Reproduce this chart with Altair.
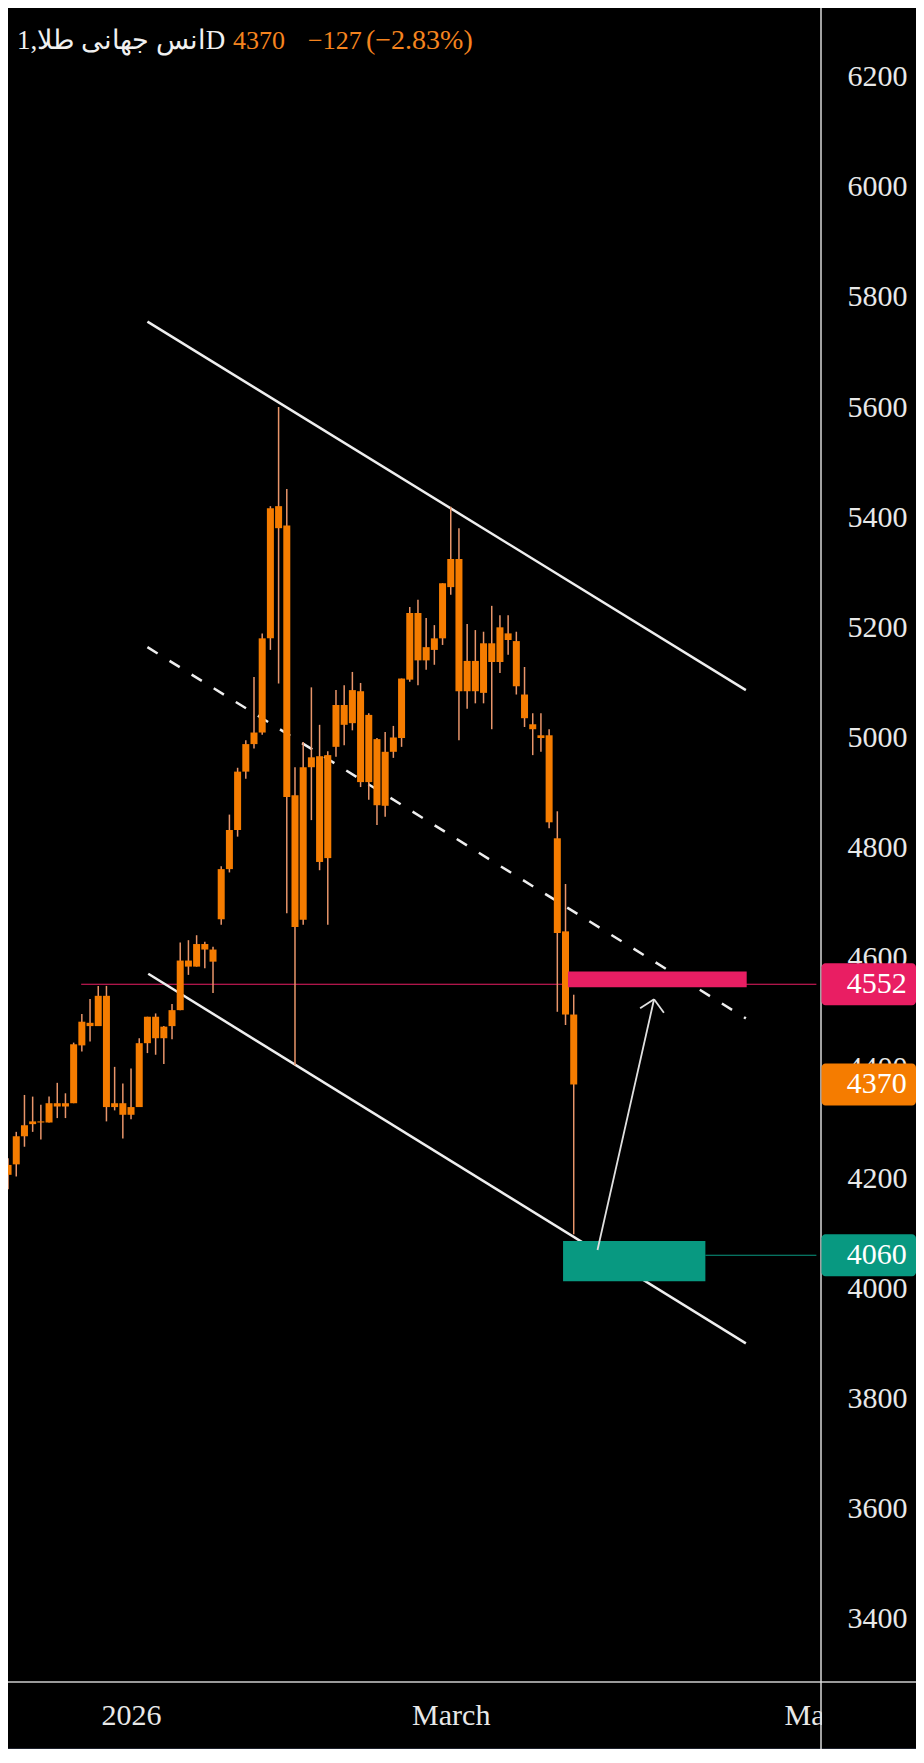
import altair as alt
import pandas as pd

# ---------------- data (daily candles, bar index order) ----------------
opens  = [4206, 4225, 4276, 4298, 4303, 4301, 4336, 4330, 4336, 4441,
          4482, 4476, 4531, 4329, 4336, 4315, 4329, 4445, 4493, 4454,
          4476, 4505, 4595, 4584, 4625, 4615, 4670, 4761, 4832, 4938,
          4988, 5009, 5180, 5420, 5385, 4895, 4669, 4946, 4966, 4781,
          4983, 5059, 5026, 5084, 4919, 4997, 4876, 4974, 4999, 5105,
          5226, 5140, 5159, 5180, 5273, 5324, 5084, 5139, 5081, 5171,
          5137, 5189, 5175, 5078, 5024, 5004, 5004, 4817, 4648, 4497]
highs  = [4236, 4284, 4351, 4348, 4333, 4348, 4373, 4354, 4446, 4498,
          4525, 4549, 4549, 4402, 4372, 4399, 4454, 4493, 4499, 4476,
          4516, 4628, 4632, 4641, 4629, 4620, 4766, 4860, 4945, 4995,
          5110, 5189, 5420, 5600, 5451, 4946, 4992, 5091, 5023, 4975,
          5086, 5095, 5119, 5099, 5044, 4999, 5010, 5021, 5107, 5237,
          5250, 5217, 5204, 5280, 5419, 5380, 5206, 5195, 5192, 5239,
          5222, 5222, 5192, 5128, 5044, 5044, 5015, 4866, 4734, 4533]
lows   = [4180, 4203, 4257, 4284, 4270, 4301, 4309, 4309, 4336, 4430,
          4448, 4476, 4303, 4323, 4272, 4307, 4329, 4427, 4424, 4407,
          4452, 4505, 4569, 4584, 4581, 4536, 4660, 4755, 4820, 4925,
          4980, 5005, 5159, 5098, 4681, 4405, 4660, 4850, 4759, 4660,
          4965, 4986, 5013, 4910, 4887, 4841, 4856, 4963, 4983, 5101,
          5095, 5123, 5132, 5168, 5259, 4995, 5052, 5062, 5062, 5015,
          5117, 5150, 5078, 5019, 4968, 4974, 4835, 4502, 4478, 4098]
closes = [4224, 4276, 4296, 4303, 4301, 4336, 4330, 4336, 4443, 4484,
          4476, 4531, 4329, 4336, 4315, 4329, 4445, 4493, 4454, 4475,
          4505, 4595, 4584, 4625, 4615, 4593, 4761, 4832, 4938, 4988,
          5009, 5180, 5416, 5380, 4892, 4656, 4946, 4964, 4774, 4968,
          5059, 5023, 5086, 4919, 5041, 4877, 4974, 5000, 5107, 5226,
          5140, 5164, 5180, 5280, 5324, 5084, 5139, 5084, 5171, 5137,
          5200, 5177, 5093, 5035, 5015, 4999, 4846, 4645, 4497, 4370]

# x-axis labels (bar index -> text)
tick_pos = [15, 54, 98]
tick_lab = ["2026", "March", "May"]
# y-axis tick values
y_ticks = [3400, 3600, 3800, 4000, 4200, 4400, 4600, 4800,
           5000, 5200, 5400, 5600, 5800, 6000, 6200]

# channel drawing (bar index, price)
chan_x0 = [17.0, 17.1]
chan_p0 = [5755, 4571]
chan_x1 = [90.0, 90.0]
chan_p1 = [5086, 3900]
mid_x0, mid_p0, mid_x1, mid_p1 = [17.0], [5164], [90.0], [4490]

# levels and zones
res_level, res_start = 4552, 8.92
sup_level = 4060
last_price = 4370
pink_zone_x = [68.3, 90.1]
pink_zone_p = [4546.5, 4575.0]
green_zone_x = [67.7, 85.06]
green_zone_p = [4013.0, 4086.0]

# arrow (tail -> tip, plus two head arms)
arrow_x0 = [71.9, 78.8, 78.8]
arrow_p0 = [4069.5, 4524.7, 4524.7]
arrow_x1 = [78.8, 77.1, 80.0]
arrow_p1 = [4524.7, 4508.3, 4500.4]

# price tags on the axis
tag_vals = [4552, 4370, 4060]
tag_text = ["4552", "4370", "4060"]
tag_cols = ["#e91e63", "#f57c00", "#089981"]

title_name = "انس جهانی طلا,1D"
title_parts = ["4370", "−127", "(−2.83%)"]

# ---------------- styling ----------------
FONT = "Liberation Serif"
ORANGE = "#f57c00"
WICK = "#e8956a"
LINE = "#eeeeee"
W, H = 813, 1674          # plot area
TOTW, TOTH = 908, 1741    # whole chart
TAG_H = 42 / 0.5508       # tag box height expressed in price units (42 px)

xs = alt.Scale(domain=[0.602, 98.554], nice=False, zero=False)
ys = alt.Scale(domain=[3285.2, 6324.4], nice=False, zero=False)

label_expr = "".join(f"datum.value == {p} ? '{l}' : " for p, l in zip(tick_pos, tick_lab)) + "''"

x_axis = alt.Axis(values=tick_pos, labelExpr=label_expr, title=None, orient="bottom",
                  domain=False, ticks=False, tickSize=0, grid=False, labelFont=FONT,
                  labelFontSize=30, labelColor="#e8e8e8", labelPadding=33,
                  labelBaseline="middle", labelFlush=False, labelOverlap=False)
y_axis = alt.Axis(values=y_ticks, format="d", title=None, orient="right",
                  domain=False, ticks=False, tickSize=0, grid=False, labelFont=FONT,
                  labelFontSize=30, labelColor="#e8e8e8", labelPadding=26,
                  labelAlign="left", labelBaseline="middle", labelOverlap=False,
                  labelFlush=False)


def X(f="x"):
    return alt.X(f"{f}:Q", scale=xs, axis=x_axis)


def Y(f="y"):
    return alt.Y(f"{f}:Q", scale=ys, axis=y_axis)


one = pd.DataFrame({"k": [0]})

# ---------------- frames ----------------
n = len(opens)
candles = pd.DataFrame({
    "x": list(range(n)),
    "lo": lows, "hi": highs,
    "b0": [min(o, c) for o, c in zip(opens, closes)],
    "b1": [max(o, c) for o, c in zip(opens, closes)],
})

chan_df = pd.DataFrame({"x": chan_x0, "y": chan_p0, "x2": chan_x1, "y2": chan_p1})
mid_df = pd.DataFrame({"x": mid_x0, "y": mid_p0, "x2": mid_x1, "y2": mid_p1})
arrow_df = pd.DataFrame({"x": arrow_x0, "y": arrow_p0, "x2": arrow_x1, "y2": arrow_p1})
res_df = pd.DataFrame({"x": [res_start], "x2": [98.6], "y": [res_level]})
sup_df = pd.DataFrame({"x": [green_zone_x[1]], "x2": [98.6], "y": [sup_level]})
zones_df = pd.DataFrame({
    "x": [pink_zone_x[0], green_zone_x[0]], "x2": [pink_zone_x[1], green_zone_x[1]],
    "y": [pink_zone_p[0], green_zone_p[0]], "y2": [pink_zone_p[1], green_zone_p[1]],
    "c": ["#e91e63", "#089981"],
})
tags_df = pd.DataFrame({
    "y": [v - TAG_H / 2 for v in tag_vals], "y2": [v + TAG_H / 2 for v in tag_vals],
    "p": tag_vals, "t": tag_text, "c": tag_cols,
})

layers = []

# bottom dark band
layers.append(alt.Chart(one).mark_rect(color="#1e222d").encode(
    x=alt.value(0), x2=alt.value(TOTW), y=alt.value(1740), y2=alt.value(TOTH)))

# resistance thin line
layers.append(alt.Chart(res_df).mark_rule(color="#e91e63", strokeWidth=1.2).encode(
    x=X(), x2="x2:Q", y=Y()))

# channel
layers.append(alt.Chart(chan_df).mark_rule(color=LINE, strokeWidth=2.5).encode(
    x=X(), x2="x2:Q", y=Y(), y2="y2:Q"))
layers.append(alt.Chart(mid_df).mark_rule(color=LINE, strokeWidth=2.5, strokeDash=[12, 14]).encode(
    x=X(), x2="x2:Q", y=Y(), y2="y2:Q"))

# candles
layers.append(alt.Chart(candles).mark_rule(color=WICK, strokeWidth=1.5).encode(
    x=X("x"), y=Y("lo"), y2="hi:Q"))
layers.append(alt.Chart(candles).mark_bar(size=7, color=ORANGE).encode(
    x=X("x"), y=Y("b0"), y2="b1:Q"))

# support line, zones, arrow
layers.append(alt.Chart(sup_df).mark_rule(color="#089981", strokeWidth=1.2).encode(
    x=X(), x2="x2:Q", y=Y()))
layers.append(alt.Chart(zones_df).mark_rect().encode(
    x=X(), x2="x2:Q", y=Y(), y2="y2:Q", color=alt.Color("c:N", scale=None)))
layers.append(alt.Chart(arrow_df).mark_rule(color="#e0e0e0", strokeWidth=1.8).encode(
    x=X(), x2="x2:Q", y=Y(), y2="y2:Q"))

# hide overflow of the last time label beyond the price scale
layers.append(alt.Chart(one).mark_rect(color="#000000").encode(
    x=alt.value(814), x2=alt.value(TOTW), y=alt.value(1676), y2=alt.value(1739)))
# axis lines
layers.append(alt.Chart(one).mark_rule(color="#9a9a9a", strokeWidth=2).encode(
    x=alt.value(0), x2=alt.value(TOTW), y=alt.value(1674)))
layers.append(alt.Chart(one).mark_rule(color="#d9d9d9", strokeWidth=1.5).encode(
    x=alt.value(813), y=alt.value(0), y2=alt.value(TOTH)))

# price tags
layers.append(alt.Chart(tags_df).mark_rect(cornerRadius=4).encode(
    x=alt.value(813.5), x2=alt.value(TOTW), y=Y(), y2="y2:Q",
    color=alt.Color("c:N", scale=None)))
layers.append(alt.Chart(tags_df).mark_text(align="left", baseline="middle", font=FONT,
                                           fontSize=30, color="#ffffff").encode(
    x=alt.value(838.7), y=Y("p"), text="t:N"))

# header
layers.append(alt.Chart(pd.DataFrame({"t": [title_name]})).mark_text(
    align="left", baseline="middle", font=FONT, fontSize=27, color="#f0f0f0").encode(
    x=alt.value(9), y=alt.value(33), text="t:N"))
for txt, px, fs in zip(title_parts, [225, 300, 358], [26, 26, 28]):
    layers.append(alt.Chart(pd.DataFrame({"t": [txt]})).mark_text(
        align="left", baseline="middle", font=FONT, fontSize=fs, color="#f5841f").encode(
        x=alt.value(px), y=alt.value(33), text="t:N"))

chart = alt.layer(*layers).properties(
    width=W, height=H,
    padding={"left": 0, "top": 0, "right": TOTW - W, "bottom": TOTH - H},
    autosize=alt.AutoSizeParams(type="none"),
    background="#000000",
).configure_view(strokeWidth=0)

chart.save("out.html", embed_options={"renderer": "svg", "actions": False})
